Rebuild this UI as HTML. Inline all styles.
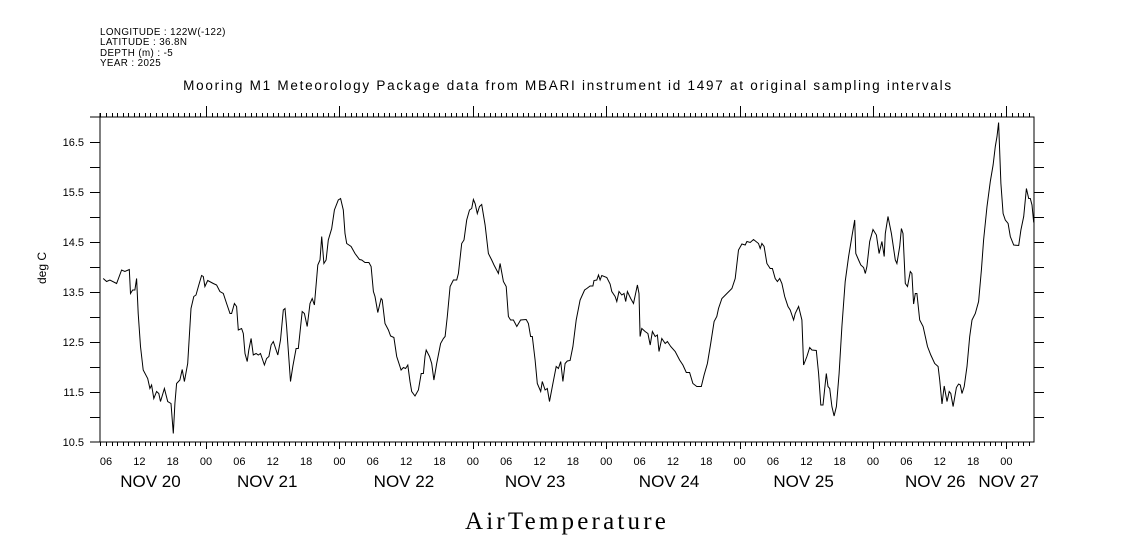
<!DOCTYPE html>
<html><head><meta charset="utf-8"><style>
html,body{margin:0;padding:0;background:#fff;}
svg{display:block;}
text{font-family:"Liberation Sans",sans-serif;fill:#000;}
</style></head><body>
<svg id="chart" width="1121" height="560" viewBox="0 0 1121 560" xmlns="http://www.w3.org/2000/svg">
<g font-size="9.8" letter-spacing="0.4">
<text x="100" y="35">LONGITUDE : 122W(-122)</text>
<text x="100" y="45">LATITUDE : 36.8N</text>
<text x="100" y="56">DEPTH (m) : -5</text>
<text x="100" y="66">YEAR : 2025</text>
</g>
<text x="568" y="90" text-anchor="middle" font-size="13.5" letter-spacing="1.75">Mooring M1 Meteorology Package data from MBARI instrument id 1497 at original sampling intervals</text>
<text transform="translate(46,268) rotate(-90)" text-anchor="middle" font-size="12">deg C</text>
<text x="567" y="529" text-anchor="middle" font-size="25" letter-spacing="3.2" style="font-family:'Liberation Serif',serif">AirTemperature</text>
<g id="axes"></g>
<g id="marks"></g>
</svg>
<script>
const times=[-18.5,-17.9,-17.3,-16.1,-15.2,-14.6,-13.8,-13.6,-13.2,-12.8,-12.5,-12.2,-11.8,-11.3,-10.5,-10.1,-9.8,-9.4,-8.9,-8.5,-8.2,-7.5,-6.9,-6.3,-5.9,-5.6,-5.3,-4.7,-4.3,-3.9,-3.3,-2.7,-2.2,-1.8,-1.3,-0.8,-0.5,-0.2,0.3,1.3,1.9,2.5,3.1,3.7,4.3,4.6,5.1,5.5,5.8,6.4,6.7,7.0,7.4,7.7,8.1,8.5,9.0,9.4,9.8,10.5,10.9,11.3,11.7,12.1,12.9,13.4,13.9,14.2,14.5,15.2,15.6,16.2,16.6,17.3,17.7,18.2,18.7,19.1,19.5,20.1,20.5,20.8,21.2,21.6,22.0,22.6,23.1,23.8,24.2,24.7,25.0,25.3,26.1,26.8,27.6,28.0,28.6,29.3,29.7,30.1,30.4,30.9,31.5,31.7,32.2,32.8,33.2,33.8,34.3,35.1,35.5,35.9,36.3,36.7,37.0,37.6,38.2,38.7,39.1,39.4,39.6,40.2,40.6,41.0,41.5,42.2,42.7,43.0,43.4,43.9,44.5,45.1,45.4,46.0,46.4,46.9,47.4,47.8,48.1,48.4,48.8,49.2,49.6,50.2,50.8,51.4,51.8,52.6,52.9,53.5,54.0,54.4,54.8,55.3,55.9,56.6,57.6,58.0,58.4,58.7,59.2,59.6,60.2,60.5,61.0,61.4,61.8,62.4,63.0,63.4,63.8,64.2,64.6,65.0,65.5,66.0,66.6,67.3,68.1,68.5,69.1,69.6,69.8,70.3,70.6,70.9,71.2,72.1,72.7,73.0,73.6,73.9,74.3,74.8,75.2,75.5,75.8,76.4,76.9,77.6,77.9,78.1,78.4,79.0,79.5,79.9,80.3,80.8,81.2,81.5,82.0,82.6,83.0,83.6,84.4,85.2,85.8,86.4,87.0,87.6,88.3,89.1,89.6,90.2,90.8,91.4,91.9,92.2,92.8,93.7,94.6,95.2,95.8,96.4,97.0,97.3,97.9,98.5,99.4,99.7,100.0,100.4,100.9,101.5,101.9,102.4,102.8,103.2,103.6,104.1,104.7,105.1,105.7,106.0,106.6,107.2,107.5,108.1,108.6,109.0,109.8,110.2,110.6,111.0,111.6,111.9,112.2,112.6,113.0,113.4,113.9,114.4,115.0,115.6,116.2,116.7,116.9,117.4,117.8,118.3,118.6,118.9,119.4,120.0,120.6,121.1,121.6,122.0,122.2,122.7,123.3,124.0,124.3,124.8,125.1,125.4,125.8,126.2,126.7,127.0,127.3,127.6,127.9,128.4,129.0,129.4,129.8,130.4,131.1,131.7,132.0,132.4,132.8,133.3,133.7,134.0,134.4,135.0,135.4,135.7,136.0,136.4,136.9,137.4,137.8,138.4,139.0,139.5,139.9,140.5,141.1,141.6,142.0,142.3,142.6,143.0,143.4,143.8,144.3,144.7,145.3,146.2,146.6,147.1,147.6,148.0,148.3,148.6,148.9];
const temps=[13.77,13.71,13.74,13.67,13.94,13.91,13.95,13.47,13.54,13.54,13.77,13.07,12.41,11.94,11.77,11.57,11.64,11.37,11.51,11.47,11.31,11.57,11.31,11.27,10.67,11.27,11.67,11.74,11.95,11.71,12.07,13.17,13.41,13.44,13.64,13.83,13.81,13.61,13.73,13.67,13.64,13.51,13.47,13.27,13.07,13.07,13.27,13.21,12.74,12.77,12.67,12.27,12.11,12.34,12.57,12.24,12.27,12.24,12.27,12.04,12.17,12.21,12.44,12.51,12.24,12.54,13.14,13.17,12.81,11.71,12.01,12.37,12.37,13.11,13.07,12.81,13.27,13.37,13.24,14.04,14.14,14.61,14.07,14.14,14.54,14.77,15.14,15.34,15.37,15.14,14.67,14.47,14.41,14.27,14.15,14.14,14.09,14.09,14.01,13.51,13.41,13.09,13.37,13.34,12.87,12.74,12.62,12.59,12.21,11.94,11.99,11.97,12.04,11.71,11.51,11.42,11.54,11.87,11.87,12.21,12.34,12.21,12.07,11.74,12.07,12.47,12.57,12.61,13.01,13.61,13.74,13.74,13.87,14.47,14.54,14.94,15.14,15.17,15.35,15.27,15.07,15.21,15.25,14.84,14.27,14.14,14.04,13.87,14.07,13.71,13.61,13.01,12.94,12.94,12.81,12.94,12.95,12.87,12.61,12.61,12.14,11.67,11.51,11.71,11.54,11.57,11.31,11.67,12.01,11.97,12.11,11.71,12.07,12.12,12.13,12.41,12.94,13.34,13.54,13.57,13.62,13.62,13.73,13.74,13.84,13.74,13.83,13.79,13.66,13.51,13.41,13.31,13.51,13.44,13.47,13.31,13.51,13.37,13.27,13.64,13.47,12.61,12.77,12.71,12.67,12.44,12.71,12.61,12.64,12.31,12.57,12.47,12.51,12.41,12.31,12.14,12.04,11.89,11.89,11.67,11.61,11.61,11.84,12.07,12.47,12.91,13.01,13.17,13.37,13.47,13.57,13.77,14.34,14.46,14.44,14.51,14.49,14.55,14.47,14.37,14.47,14.41,14.07,13.97,13.97,13.77,13.71,13.77,13.67,13.41,13.21,13.14,12.94,13.07,13.21,12.94,12.04,12.21,12.39,12.34,12.33,11.87,11.24,11.24,11.87,11.61,11.57,11.21,11.02,11.21,11.87,12.81,13.71,14.21,14.61,14.94,14.27,14.14,14.04,13.99,13.87,14.01,14.51,14.75,14.64,14.27,14.51,14.21,14.67,15.01,14.67,14.14,14.07,14.41,14.77,14.67,13.67,13.61,13.91,13.87,13.26,13.47,13.47,12.94,12.81,12.61,12.41,12.24,12.07,12.01,11.74,11.26,11.62,11.31,11.51,11.47,11.21,11.59,11.66,11.64,11.47,11.61,12.01,12.61,12.94,13.07,13.31,13.94,14.54,15.21,15.71,16.04,16.41,16.61,16.89,15.67,15.07,14.94,14.87,14.61,14.44,14.43,14.74,15.01,15.57,15.37,15.37,15.24,14.89];
const yTickLabels=["10.5","11.5","12.5","13.5","14.5","15.5","16.5"];
const hourLabels=["06","12","18","00","06","12","18","00","06","12","18","00","06","12","18","00","06","12","18","00","06","12","18","00","06","12","18","00"];
const dayLabels=["NOV 20","NOV 21","NOV 22","NOV 23","NOV 24","NOV 25","NOV 26","NOV 27"];
const dayLabelHours=[-10,11,35.6,59.2,83.3,107.5,131.2,144.4];

const NS="http://www.w3.org/2000/svg";
const L=100,R=1034,T=117,B=442;
const tMin=-19.08,tMax=148.96,vMin=10.5,vMax=17.0;
function xs(t){return L+(t-tMin)/(tMax-tMin)*(R-L);}
function ys(v){return B-(v-vMin)/(vMax-vMin)*(B-T);}
function mk(tag,attrs,parent){const e=document.createElementNS(NS,tag);for(const k in attrs)e.setAttribute(k,attrs[k]);parent.appendChild(e);return e;}
const axes=document.getElementById('axes'),marks=document.getElementById('marks');
const st={stroke:'#000','stroke-width':1,fill:'none','shape-rendering':'crispEdges'};
let f=mk('path',Object.assign({d:`M90 ${B}H${R}V${T}H90M${L} ${T-4}V${B}`},st),axes);


let d='';
for(let h=Math.ceil(tMin);h<=tMax;h++){
  const x=Math.round(xs(h))+0.5;const major=((h%24)+24)%24===0;
  d+=`M${x} ${B}v${major?7:4}M${x} ${T}v${major?-11:-4}`;
}
let tk=mk('path',Object.assign({d:d},st),axes);


hourLabels.forEach((lab,i)=>{
  const t=-18+6*i;
  const e=mk('text',{x:xs(t),y:465,'text-anchor':'middle','font-size':11},axes);e.textContent=lab;
  
  
});
dayLabels.forEach((lab,i)=>{
  const e=mk('text',{x:xs(dayLabelHours[i]),y:487,'text-anchor':'middle','font-size':17},axes);e.textContent=lab;
  
  
});
d='';
for(let v=11.0;v<=16.99;v+=0.5){const y=Math.round(ys(v))+0.5;d+=`M${L-10} ${y}H${L}M${R} ${y}H${R+10}`;}
let yt=mk('path',Object.assign({d:d},st),axes);


yTickLabels.forEach(lab=>{
  const e=mk('text',{x:84,y:ys(parseFloat(lab))+4,'text-anchor':'end','font-size':11},axes);e.textContent=lab;
  
  
});
const pts=times.map((t,i)=>xs(t).toFixed(1)+','+ys(temps[i]).toFixed(1)).join(' ');
const line=mk('polyline',{points:pts,stroke:'#000','stroke-width':1,fill:'none'},marks);


</script>
</body></html>
